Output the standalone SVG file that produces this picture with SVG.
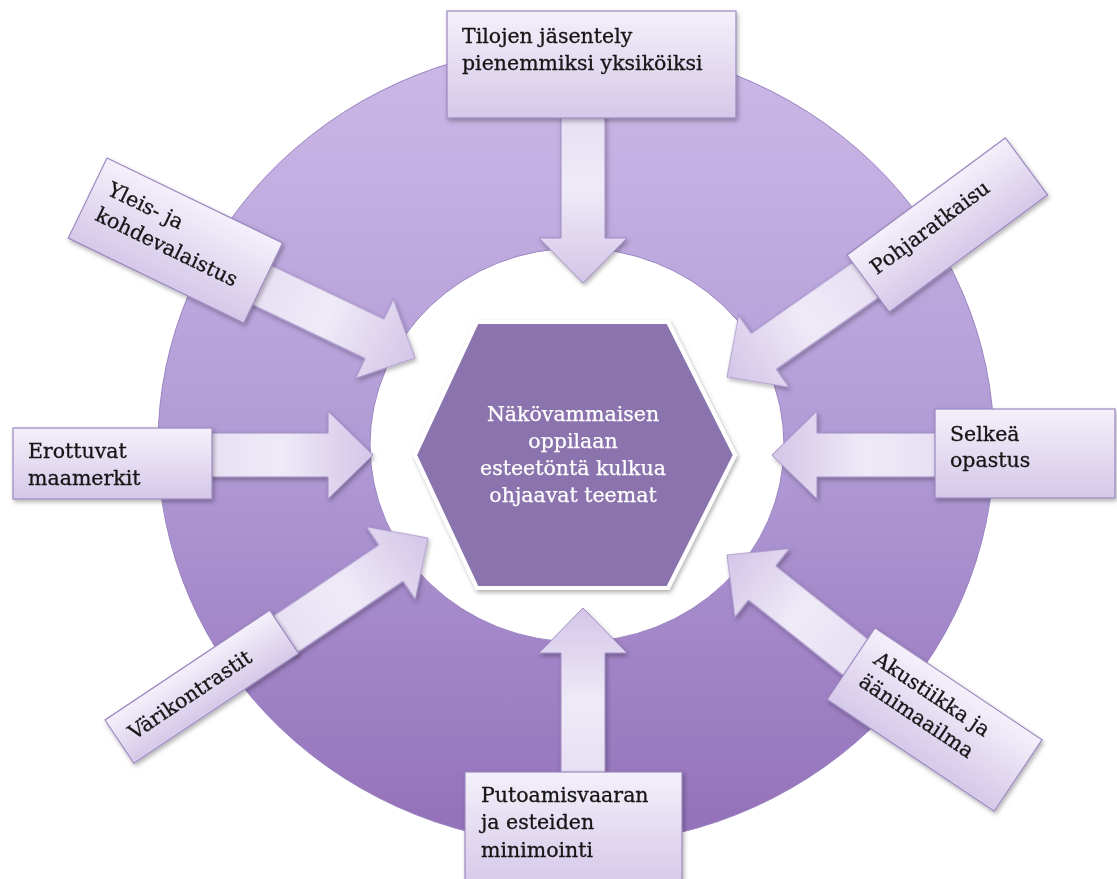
<svg xmlns="http://www.w3.org/2000/svg" width="1117" height="879" viewBox="0 0 1117 879">
<style>
.box{fill:url(#boxGrad);stroke:#9c88bf;stroke-width:1.2}
.arrow{fill:url(#arrGrad);stroke:#a08cc4;stroke-width:1}
.lbl{font-family:"DejaVu Serif","Liberation Serif",serif;font-size:20.5px;fill:#141414;stroke:#141414;stroke-width:0.3}
.ctr{font-family:"DejaVu Serif","Liberation Serif",serif;font-size:20.5px;fill:#ffffff;stroke:#ffffff;stroke-width:0.25;text-anchor:middle}
</style>
<defs>
<linearGradient id="ringGrad" x1="0" y1="0" x2="0" y2="1">
<stop offset="0" stop-color="#ccb9e7"/>
<stop offset="0.5" stop-color="#b19bd6"/>
<stop offset="1" stop-color="#9370b9"/>
</linearGradient>
<linearGradient id="boxGrad" x1="0" y1="0" x2="0" y2="1">
<stop offset="0" stop-color="#f4f0fa"/>
<stop offset="1" stop-color="#d5c8e9"/>
</linearGradient>
<linearGradient id="arrGrad" x1="0" y1="0" x2="1" y2="0">
<stop offset="0" stop-color="#e7dff3"/>
<stop offset="0.45" stop-color="#efeaf7"/>
<stop offset="1" stop-color="#d3c5e8"/>
</linearGradient>
<filter id="sh" x="-20%" y="-20%" width="140%" height="140%">
<feDropShadow dx="1.5" dy="2.5" stdDeviation="2" flood-color="#000" flood-opacity="0.3"/>
</filter>
</defs>
<rect width="1117" height="879" fill="#ffffff"/>
<g id="ring">
<path d="M158 445a418 400 0 1 0 836 0a418 400 0 1 0-836 0ZM370 445a207 197 0 1 0 414 0a207 197 0 1 0-414 0Z" fill="url(#ringGrad)" fill-rule="evenodd" stroke="#9a82c0" stroke-width="1"/>
</g>
<g id="connectors" filter="url(#sh)">
<polygon class="arrow" transform="translate(583,283) rotate(90)" points="0,0 -45,-44 -45,-22 -170,-22 -170,22 -45,22 -45,44"/>
<polygon class="arrow" transform="translate(583,608) rotate(-90)" points="0,0 -45,-44 -45,-22 -170,-22 -170,22 -45,22 -45,44"/>
<polygon class="arrow" transform="translate(373,455)" points="0,0 -45,-44 -45,-22 -168,-22 -168,22 -45,22 -45,44"/>
<polygon class="arrow" transform="translate(772,455) rotate(180)" points="0,0 -45,-44 -45,-22 -170,-22 -170,22 -45,22 -45,44"/>
<polygon class="arrow" transform="translate(415,358) rotate(25.5)" points="0,0 -45,-44 -45,-22 -175,-22 -175,22 -45,22 -45,44"/>
<polygon class="arrow" transform="translate(727,377) rotate(145)" points="0,0 -45,-44 -45,-22 -175,-22 -175,22 -45,22 -45,44"/>
<polygon class="arrow" transform="translate(428,538) rotate(-34)" points="0,0 -45,-44 -45,-22 -178,-22 -178,22 -45,22 -45,44"/>
<polygon class="arrow" transform="translate(727,555) rotate(218.5)" points="0,0 -45,-44 -45,-22 -168,-22 -168,22 -45,22 -45,44"/>
</g>
<g id="node-tilojen" filter="url(#sh)">
<g transform="translate(447,11)">
<rect class="box" width="289" height="107"/>
<text class="lbl" x="15" y="32">Tilojen jäsentely</text>
<text class="lbl" x="15" y="59">pienemmiksi yksiköiksi</text>
</g>
</g>
<g id="node-putoamis" filter="url(#sh)">
<g transform="translate(465,772)">
<rect class="box" width="217" height="115"/>
<text class="lbl" x="16" y="30">Putoamisvaaran</text>
<text class="lbl" x="16" y="57">ja esteiden</text>
<text class="lbl" x="16" y="85">minimointi</text>
</g>
</g>
<g id="node-erottuvat" filter="url(#sh)">
<g transform="translate(13,428)">
<rect class="box" width="199" height="71"/>
<text class="lbl" x="15" y="30">Erottuvat</text>
<text class="lbl" x="15" y="57">maamerkit</text>
</g>
</g>
<g id="node-selkea" filter="url(#sh)">
<g transform="translate(935,409)">
<rect class="box" width="180" height="89"/>
<text class="lbl" x="15" y="32">Selkeä</text>
<text class="lbl" x="15" y="58">opastus</text>
</g>
</g>
<g id="node-yleis" filter="url(#sh)">
<g transform="translate(107,158) rotate(25.8)">
<rect class="box" width="195" height="89"/>
<text class="lbl" x="15" y="33">Yleis- ja</text>
<text class="lbl" x="15" y="61">kohdevalaistus</text>
</g>
</g>
<g id="node-pohja" filter="url(#sh)">
<g transform="translate(847,255) rotate(-36.5)">
<rect class="box" width="197" height="71"/>
<text class="lbl" x="12" y="34">Pohjaratkaisu</text>
</g>
</g>
<g id="node-vari" filter="url(#sh)">
<g transform="translate(105,720) rotate(-33.7)">
<rect class="box" width="198" height="52"/>
<text class="lbl" x="13" y="33">Värikontrastit</text>
</g>
</g>
<g id="node-akustiikka" filter="url(#sh)">
<g transform="translate(875,628) rotate(33.8)">
<rect class="box" width="201" height="86"/>
<text class="lbl" x="17" y="30">Akustiikka ja</text>
<text class="lbl" x="17" y="57">äänimaailma</text>
</g>
</g>
<g id="node-center" filter="url(#sh)">
<polygon points="477,322 668,322 735,455 668,588 477,588 415,455" fill="#8b73ad" stroke="#ffffff" stroke-width="4"/>
<text class="ctr" x="573" y="421">Näkövammaisen</text>
<text class="ctr" x="573" y="448">oppilaan</text>
<text class="ctr" x="573" y="475">esteetöntä kulkua</text>
<text class="ctr" x="573" y="502">ohjaavat teemat</text>
</g>
</svg>
